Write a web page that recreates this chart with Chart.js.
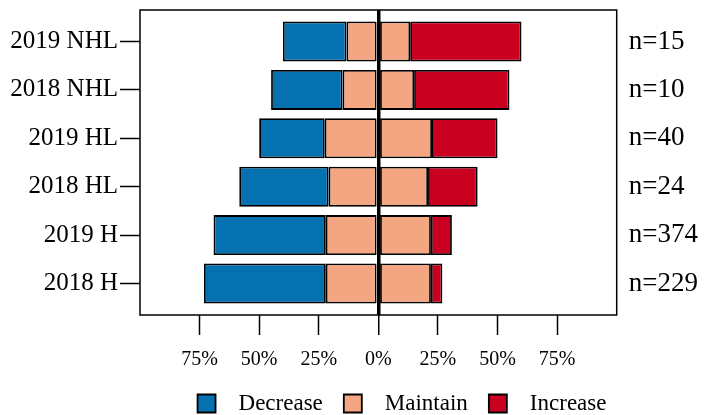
<!DOCTYPE html>
<html>
<head>
<meta charset="utf-8">
<script src="https://cdn.jsdelivr.net/npm/chart.js@4.4.1/dist/chart.umd.min.js"></script>
<style>
    html, body { margin: 0; padding: 0; background: #fff; }
</style>
</head>
<body>
<canvas id="myChart" width="704" height="415"></canvas>
<script>
// datos (porcentajes por grupo)
const grupos = ['2019 NHL', '2018 NHL', '2019 HL', '2018 HL', '2019 H', '2018 H']
const tamanos = [15, 10, 40, 24, 374, 229]
const decrease = [26.7, 30, 27.5, 37.5, 47.1, 51.1]
const maintain = [26.7, 30, 45, 41.7, 44.1, 44.1]
const increase = [46.7, 40, 27.5, 20.8, 8.8, 4.8]
const ticksX = [-75, -50, -25, 0, 25, 50, 75]

const colores = { decrease: '#0571B0', maintain: '#F4A582', increase: '#CA0020' }
const ordenLeyenda = ['Decrease', 'Maintain', 'Increase']

Chart.defaults.font.family = "'Liberation Serif', 'Times New Roman', serif"
Chart.defaults.color = '#000'

function puntos(valores, signo) {
    return valores.map((v, i) => ({ x: signo * v, y: i }))
}

const estiloBarra = {
    borderColor: '#000',
    borderWidth: 1.8,
    borderSkipped: false,
    categoryPercentage: 1,
    barPercentage: 0.826
}

// marco negro alrededor del area del grafico
const marco = {
    id: 'marco',
    afterDatasetsDraw(chart) {
        const { ctx, chartArea } = chart
        ctx.save()
        ctx.strokeStyle = '#000'
        ctx.lineWidth = 1.5
        ctx.strokeRect(chartArea.left, chartArea.top, chartArea.width, chartArea.height)
        ctx.restore()
    }
}

// mueve la leyenda a su sitio
const moverLeyenda = {
    id: 'moverLeyenda',
    afterLayout(chart) {
        const l = chart.legend
        l.left += 50
        l.right += 50
        l.top -= 4
        l.bottom -= 4
    }
}

function ticksFilas(axis) {
    axis.ticks = grupos.map((g, i) => ({ value: i }))
}

function sinPadding(axis) {
    axis.paddingTop = 0
    axis.paddingBottom = 0
    axis.paddingLeft = 0
    axis.paddingRight = 0
}

const config = {
    type: 'bar',
    data: {
        datasets: [
            { label: 'Maintain', data: puntos(maintain.map(v => v / 2), -1), backgroundColor: colores.maintain, ...estiloBarra },
            { label: 'Maintain2', data: puntos(maintain.map(v => v / 2), 1), backgroundColor: colores.maintain, ...estiloBarra },
            { label: 'Decrease', data: puntos(decrease, -1), backgroundColor: colores.decrease, ...estiloBarra },
            { label: 'Increase', data: puntos(increase, 1), backgroundColor: colores.increase, ...estiloBarra }
        ]
    },
    options: {
        indexAxis: 'y',
        responsive: false,
        animation: false,
        layout: { padding: { top: 10, bottom: -14, left: 0, right: 0 } },
        scales: {
            x: {
                type: 'linear',
                min: -100,
                max: 100,
                stacked: true,
                z: 1,
                afterBuildTicks: (axis) => { axis.ticks = ticksX.map(v => ({ value: v })) },
                afterFit: (axis) => { axis.height = 60; sinPadding(axis) },
                ticks: {
                    callback: (v) => Math.abs(v) + '%',
                    font: { size: 20 },
                    padding: 13,
                    maxRotation: 0,
                    autoSkip: false
                },
                grid: {
                    color: (c) => (c.tick && c.tick.value === 0) ? '#000' : 'rgba(0,0,0,0)',
                    lineWidth: (c) => (c.tick && c.tick.value === 0) ? 3.5 : 1,
                    tickColor: '#000',
                    tickWidth: 1.5,
                    tickLength: 20
                },
                border: { display: false }
            },
            y: {
                type: 'linear',
                min: -0.65,
                max: 5.65,
                reverse: true,
                stacked: true,
                offset: false,
                afterBuildTicks: ticksFilas,
                afterFit: (axis) => { axis.width = 140; sinPadding(axis) },
                ticks: {
                    callback: (v) => grupos[v],
                    font: { size: 25 },
                    padding: 2,
                    autoSkip: false
                },
                grid: {
                    offset: false,
                    drawOnChartArea: false,
                    tickColor: '#000',
                    tickWidth: 1.5,
                    tickLength: 20
                },
                border: { display: false }
            },
            yn: {
                type: 'linear',
                position: 'right',
                min: -0.65,
                max: 5.65,
                reverse: true,
                offset: false,
                afterBuildTicks: ticksFilas,
                afterFit: (axis) => { axis.width = 87.3; sinPadding(axis) },
                ticks: {
                    callback: (v) => 'n=' + tamanos[v],
                    font: { size: 27 },
                    padding: 12,
                    autoSkip: false
                },
                grid: { display: false, drawTicks: false, offset: false },
                border: { display: false }
            }
        },
        plugins: {
            legend: {
                position: 'bottom',
                labels: {
                    boxWidth: 18,
                    boxHeight: 18,
                    padding: 21,
                    font: { size: 23 },
                    filter: (item) => item.text.trim() !== 'Maintain2',
                    sort: (a, b) => ordenLeyenda.indexOf(a.text.trim()) - ordenLeyenda.indexOf(b.text.trim()),
                    generateLabels: (chart) => {
                        const base = Chart.defaults.plugins.legend.labels.generateLabels(chart)
                        return base.map(item => ({ ...item, text: '  ' + item.text }))
                    }
                }
            },
            tooltip: { enabled: false }
        }
    },
    plugins: [marco, moverLeyenda]
}

new Chart(document.getElementById('myChart'), config)
</script>
</body>
</html>
